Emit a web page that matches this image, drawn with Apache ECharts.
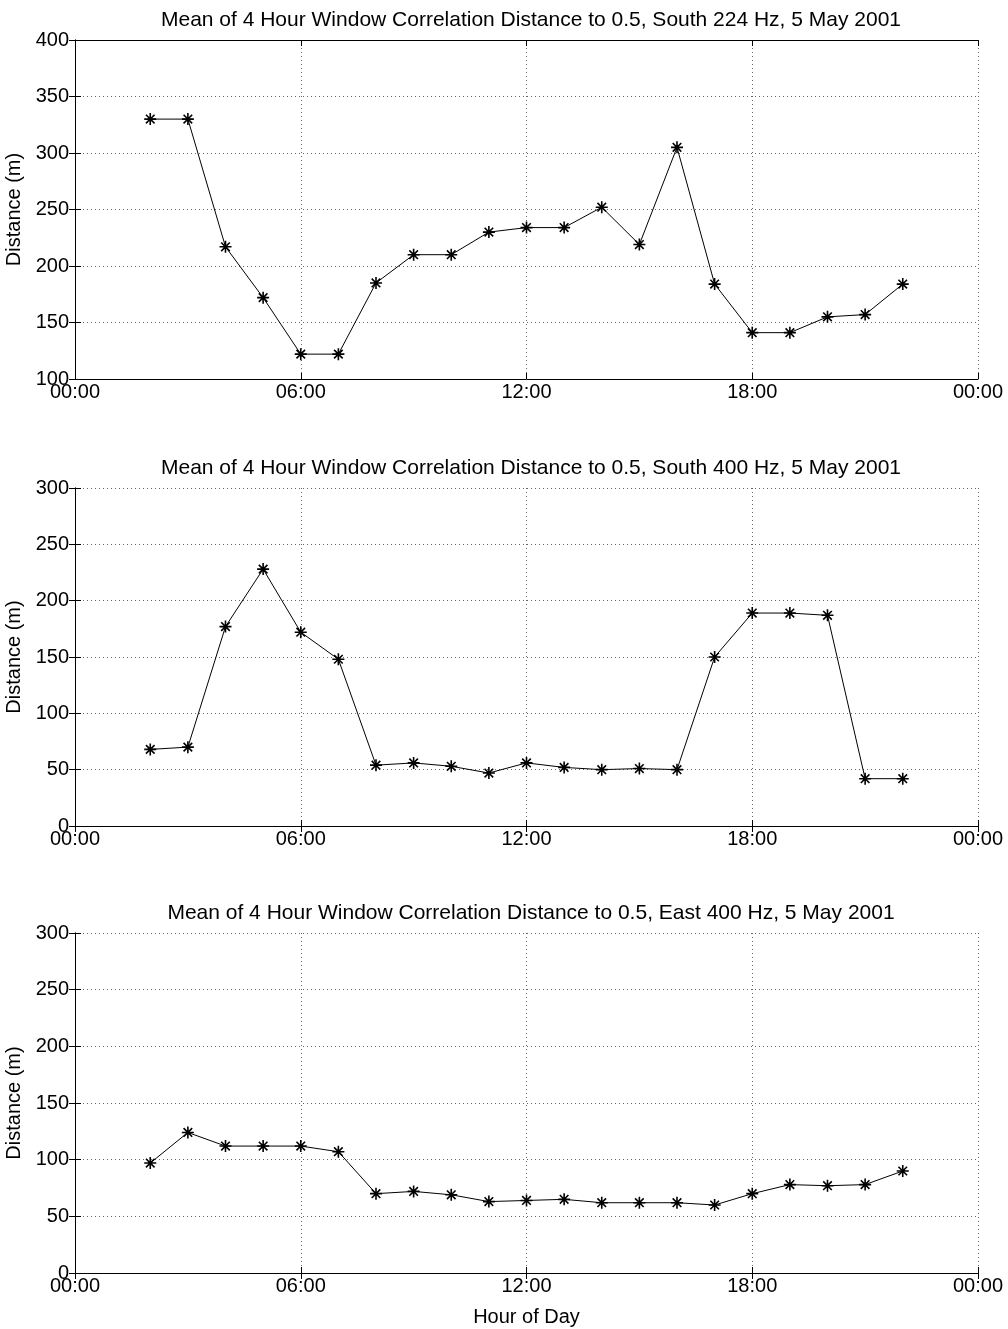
<!DOCTYPE html>
<html>
<head>
<meta charset="UTF-8">
<title>Correlation distance</title>
<script src="https://cdn.jsdelivr.net/npm/echarts@6/dist/echarts.min.js"></script>
<style>
  html, body { margin: 0; padding: 0; background: #fff; }
  #chart { width: 1008px; height: 1329px; }
</style>
</head>
<body>
<div id="chart"></div>
<script>
// hour of day for each 4 hour window mean
var hours = [2, 3, 4, 5, 6, 7, 8, 9, 10, 11, 12, 13, 14, 15, 16, 17, 18, 19, 20, 21, 22];
var south224 = [330, 330, 217, 172, 122, 122, 185, 210, 210, 230, 234, 234, 252, 219, 305, 184, 141, 141, 155, 157, 184];
var south400 = [68, 70, 177, 228, 172, 148, 54, 56, 53, 47, 56, 52, 50, 51, 50, 150, 189, 189, 187, 42, 42];
var east400 = [97, 124, 112, 112, 112, 107, 70, 72, 69, 63, 64, 65, 62, 62, 62, 60, 70, 78, 77, 78, 90];

var titles = [
    'Mean of 4 Hour Window Correlation Distance to 0.5, South 224 Hz, 5 May 2001',
    'Mean of 4 Hour Window Correlation Distance to 0.5, South 400 Hz, 5 May 2001',
    'Mean of 4 Hour Window Correlation Distance to 0.5, East 400 Hz, 5 May 2001'
];
var yRanges = [[100, 400], [0, 300], [0, 300]];
var seriesVals = [south224, south400, east400];

var gridTops = [40, 488, 933];
var gridHeights = [339, 338, 340];

var font = 'Liberation Sans, Arial, sans-serif';
var star = 'path://M0,-6L0,6M-6,0L6,0M-4.3,-4.3L4.3,4.3M-4.3,4.3L4.3,-4.3';

function hourLabel(v) {
    var h = v % 24;
    return (h < 10 ? '0' : '') + h + ':00';
}

var chart = echarts.init(document.getElementById('chart'));

var grid = [], xAxis = [], yAxis = [], series = [], title = [];
for (var i = 0; i < 3; i++) {
    grid.push({ left: 75, right: 30, top: gridTops[i], height: gridHeights[i], outerBoundsMode: 'none' });
    title.push({
        text: titles[i], left: 526, top: gridTops[i] - 35, textAlign: 'center',
        textStyle: { fontFamily: font, fontSize: 21, fontWeight: 'normal', color: '#000' }
    });
    // bottom axis
    xAxis.push({
        gridIndex: i, type: 'value', min: 0, max: 24, interval: 6, position: 'bottom',
        name: i === 2 ? 'Hour of Day' : '', nameLocation: 'middle', nameGap: 34,
        nameTextStyle: { fontFamily: font, fontSize: 20, color: '#000' },
        axisLine: { lineStyle: { color: '#000', width: 1 } },
        axisTick: { inside: true, length: 6, lineStyle: { color: '#000' } },
        axisLabel: { formatter: hourLabel, fontFamily: font, fontSize: 20, color: '#000', margin: 3 },
        splitLine: { show: true, lineStyle: { color: '#666', type: [1, 3], width: 1 } }
    });
    // top axis for ticks
    xAxis.push({
        gridIndex: i, type: 'value', min: 0, max: 24, interval: 6, position: 'top',
        axisLine: { lineStyle: { color: '#000', width: 1 } },
        axisTick: { inside: true, length: 6, lineStyle: { color: '#000' } },
        axisLabel: { show: false }, splitLine: { show: false }
    });
    yAxis.push({
        gridIndex: i, type: 'value', min: yRanges[i][0], max: yRanges[i][1], interval: 50, position: 'left',
        name: 'Distance (m)', nameLocation: 'middle', nameGap: 44, nameRotate: 90,
        nameTextStyle: { fontFamily: font, fontSize: 20, color: '#000' },
        axisLine: { lineStyle: { color: '#000', width: 1 } },
        axisTick: { inside: true, length: 6, lineStyle: { color: '#000' } },
        axisLabel: { fontFamily: font, fontSize: 20, color: '#000', margin: 6 },
        splitLine: { show: true, lineStyle: { color: '#666', type: [1, 3], width: 1 } }
    });
    yAxis.push({
        gridIndex: i, type: 'value', min: yRanges[i][0], max: yRanges[i][1], interval: 50, position: 'right',
        axisLine: { lineStyle: { color: '#000', width: 1 } },
        axisTick: { inside: true, length: 6, lineStyle: { color: '#000' } },
        axisLabel: { show: false }, splitLine: { show: false }
    });
    var vals = seriesVals[i];
    series.push({
        type: 'line', xAxisIndex: i * 2, yAxisIndex: i * 2,
        data: hours.map(function (h, k) { return [h, vals[k]]; }),
        symbol: star, symbolSize: 12,
        itemStyle: { color: 'rgba(0,0,0,0)', borderColor: '#000', borderWidth: 1.6 },
        lineStyle: { color: '#000', width: 1 },
        animation: false
    });
}

chart.setOption({
    animation: false,
    title: title,
    grid: grid,
    xAxis: xAxis,
    yAxis: yAxis,
    series: series
});
</script>
</body>
</html>
